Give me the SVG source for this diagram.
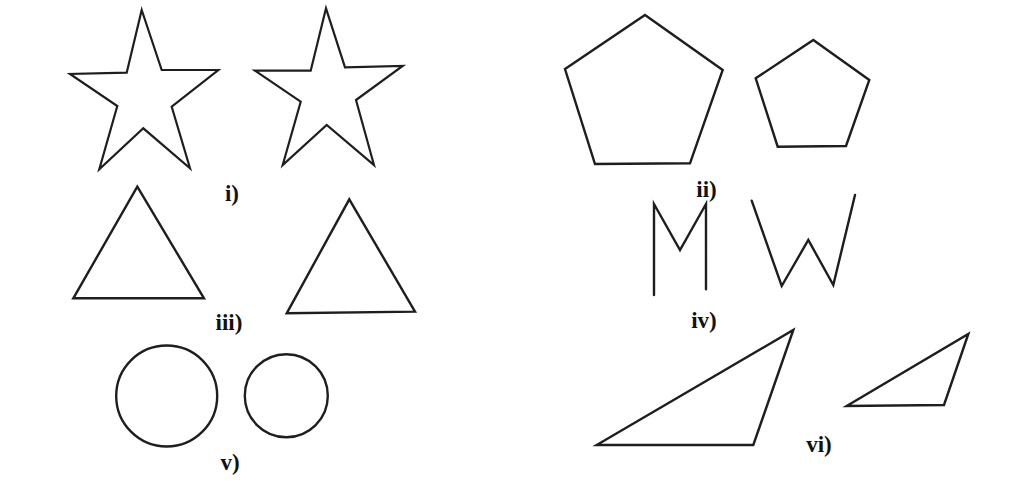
<svg xmlns="http://www.w3.org/2000/svg" width="1024" height="494" viewBox="0 0 1024 494">
<style>
.s{fill:none;stroke:#1e1e1e;stroke-width:2.4;stroke-linejoin:miter;stroke-linecap:round}
.t{fill:none;stroke:#1e1e1e;stroke-width:2.2;stroke-linejoin:miter}
.l{font-family:"Liberation Serif","Times New Roman",serif;font-weight:bold;font-size:23px;fill:#111;text-anchor:middle}
</style>
<rect width="1024" height="494" fill="#fff"/>
<g id="stars">
<polygon class="t" points="141.7,10 161.7,70 218.3,70 171.7,106.7 190,168.3 143.3,128.3 99.3,169.3 117.3,106 70,74 126.7,72.7"/>
<polygon class="t" points="326,8.3 345,67.3 402.7,66 356,100 374,165 326.7,125 282.7,165 300.7,101.7 255,70.7 310.7,70.7"/>
<text class="l" x="232" y="201">i)</text>
</g>
<g id="pentagons">
<polygon class="s" points="645,15 722.7,70 690,163.3 595,164 565,69"/>
<polygon class="s" points="813.3,40 869.3,80 846,146 777.7,146.7 755.7,78.3"/>
<text class="l" x="706.5" y="197">ii)</text>
</g>
<g id="triangles">
<polygon class="s" points="137.3,186.7 204,298.3 73.3,298.3"/>
<polygon class="s" points="349.3,199.3 415,311.7 286.7,313.3"/>
<text class="l" x="229" y="330">iii)</text>
</g>
<g id="letters">
<polyline class="s" points="654,295 654,204 680,250 706,204 706,289.3"/>
<polyline class="s" points="751.7,200.7 781.7,286 808.3,240 833.3,285 855,195"/>
<text class="l" x="704" y="328">iv)</text>
</g>
<g id="circles">
<circle class="s" cx="166.7" cy="396" r="50.5"/>
<circle class="s" cx="286.3" cy="395.7" r="41.5"/>
<text class="l" x="230" y="470">v)</text>
</g>
<g id="scalene">
<polygon class="s" points="793.3,330 753.3,445 596.7,445"/>
<polygon class="s" points="968.3,334 944,405 846.7,406"/>
<text class="l" x="819" y="452">vi)</text>
</g>
</svg>
